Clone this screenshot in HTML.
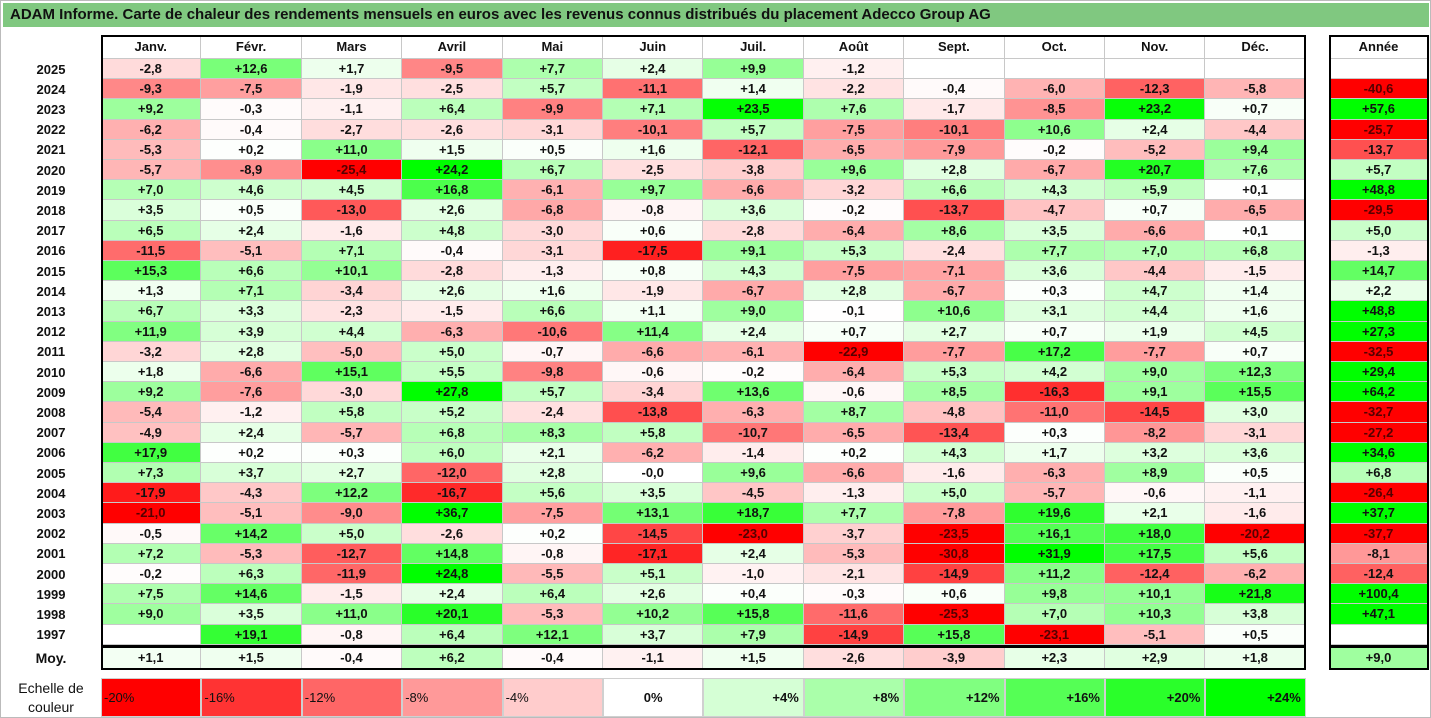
<!DOCTYPE html>
<html><head><meta charset="utf-8">
<style>
html,body{margin:0;padding:0;background:#fff;}
#root{position:relative;width:1431px;height:718px;overflow:hidden;font-family:"Liberation Sans",Arial,sans-serif;box-sizing:border-box;border:1px solid #bbb;}
.c{position:absolute;box-sizing:border-box;display:flex;align-items:center;justify-content:center;font-weight:bold;font-size:13px;color:#111;}
.g{border-right:1px solid #c8c8c8;border-bottom:1px solid #c8c8c8;}
.box{position:absolute;box-sizing:border-box;border:2px solid #000;pointer-events:none;}
</style></head>
<body>
<div id="root">
<div style="position:absolute;left:2px;top:2px;width:1426px;height:24px;background:#80c880;font-weight:bold;font-size:15px;line-height:24px;padding-left:7px;box-sizing:border-box;color:#111;">ADAM Informe. Carte de chaleur des rendements mensuels en euros avec les revenus connus distribués du placement Adecco Group AG</div>
</div>
<script>
const months=["Janv.","Févr.","Mars","Avril","Mai","Juin","Juil.","Août","Sept.","Oct.","Nov.","Déc."];
const years=[2025,2024,2023,2022,2021,2020,2019,2018,2017,2016,2015,2014,2013,2012,2011,2010,2009,2008,2007,2006,2005,2004,2003,2002,2001,2000,1999,1998,1997];
const monthly=[
[-2.8,12.6,1.7,-9.5,7.7,2.4,9.9,-1.2,null,null,null,null],
[-9.3,-7.5,-1.9,-2.5,5.7,-11.1,1.4,-2.2,-0.4,-6.0,-12.3,-5.8],
[9.2,-0.3,-1.1,6.4,-9.9,7.1,23.5,7.6,-1.7,-8.5,23.2,0.7],
[-6.2,-0.4,-2.7,-2.6,-3.1,-10.1,5.7,-7.5,-10.1,10.6,2.4,-4.4],
[-5.3,0.2,11.0,1.5,0.5,1.6,-12.1,-6.5,-7.9,-0.2,-5.2,9.4],
[-5.7,-8.9,-25.4,24.2,6.7,-2.5,-3.8,9.6,2.8,-6.7,20.7,7.6],
[7.0,4.6,4.5,16.8,-6.1,9.7,-6.6,-3.2,6.6,4.3,5.9,0.1],
[3.5,0.5,-13.0,2.6,-6.8,-0.8,3.6,-0.2,-13.7,-4.7,0.7,-6.5],
[6.5,2.4,-1.6,4.8,-3.0,0.6,-2.8,-6.4,8.6,3.5,-6.6,0.1],
[-11.5,-5.1,7.1,-0.4,-3.1,-17.5,9.1,5.3,-2.4,7.7,7.0,6.8],
[15.3,6.6,10.1,-2.8,-1.3,0.8,4.3,-7.5,-7.1,3.6,-4.4,-1.5],
[1.3,7.1,-3.4,2.6,1.6,-1.9,-6.7,2.8,-6.7,0.3,4.7,1.4],
[6.7,3.3,-2.3,-1.5,6.6,1.1,9.0,-0.1,10.6,3.1,4.4,1.6],
[11.9,3.9,4.4,-6.3,-10.6,11.4,2.4,0.7,2.7,0.7,1.9,4.5],
[-3.2,2.8,-5.0,5.0,-0.7,-6.6,-6.1,-22.9,-7.7,17.2,-7.7,0.7],
[1.8,-6.6,15.1,5.5,-9.8,-0.6,-0.2,-6.4,5.3,4.2,9.0,12.3],
[9.2,-7.6,-3.0,27.8,5.7,-3.4,13.6,-0.6,8.5,-16.3,9.1,15.5],
[-5.4,-1.2,5.8,5.2,-2.4,-13.8,-6.3,8.7,-4.8,-11.0,-14.5,3.0],
[-4.9,2.4,-5.7,6.8,8.3,5.8,-10.7,-6.5,-13.4,0.3,-8.2,-3.1],
[17.9,0.2,0.3,6.0,2.1,-6.2,-1.4,0.2,4.3,1.7,3.2,3.6],
[7.3,3.7,2.7,-12.0,2.8,-0.0,9.6,-6.6,-1.6,-6.3,8.9,0.5],
[-17.9,-4.3,12.2,-16.7,5.6,3.5,-4.5,-1.3,5.0,-5.7,-0.6,-1.1],
[-21.0,-5.1,-9.0,36.7,-7.5,13.1,18.7,7.7,-7.8,19.6,2.1,-1.6],
[-0.5,14.2,5.0,-2.6,0.2,-14.5,-23.0,-3.7,-23.5,16.1,18.0,-20.2],
[7.2,-5.3,-12.7,14.8,-0.8,-17.1,2.4,-5.3,-30.8,31.9,17.5,5.6],
[-0.2,6.3,-11.9,24.8,-5.5,5.1,-1.0,-2.1,-14.9,11.2,-12.4,-6.2],
[7.5,14.6,-1.5,2.4,6.4,2.6,0.4,-0.3,0.6,9.8,10.1,21.8],
[9.0,3.5,11.0,20.1,-5.3,10.2,15.8,-11.6,-25.3,7.0,10.3,3.8],
[null,19.1,-0.8,6.4,12.1,3.7,7.9,-14.9,15.8,-23.1,-5.1,0.5]];
const annual=[null,-40.6,57.6,-25.7,-13.7,5.7,48.8,-29.5,5.0,-1.3,14.7,2.2,48.8,27.3,-32.5,29.4,64.2,-32.7,-27.2,34.6,6.8,-26.4,37.7,-37.7,-8.1,-12.4,100.4,47.1,null];
const averages=[1.1,1.5,-0.4,6.2,-0.4,-1.1,1.5,-2.6,-3.9,2.3,2.9,1.8];
const averageYear=9.0;
const scaleSteps=[-20,-16,-12,-8,-4,0,4,8,12,16,20,24];

const root=document.getElementById('root');
const X0=100,CW=100.4,YX=1328,YW=100,HY=34,HH=24,RY=58,RH=20.2;
const colX=i=>X0+i*CW;
const rowY=i=>RY+i*RH;
function color(v){
  if(v===null) return '#fff';
  if(v<0){const c=Math.round(255*(1-Math.min(1,-v/20)));return `rgb(255,${c},${c})`;}
  const c=Math.round(255*(1-Math.min(1,v/24)));return `rgb(${c},255,${c})`;
}
function fmt(v){
  if(v===null) return '';
  const s=Math.abs(v).toFixed(1).replace('.',',');
  return ((v<0||Object.is(v,-0))?'-':'+')+s;
}
function cell(x,y,w,h,txt,bg,cls){
  const d=document.createElement('div');
  d.className='c '+(cls||'');
  d.style.left=x+'px';d.style.top=y+'px';d.style.width=w+'px';d.style.height=h+'px';
  if(bg) d.style.background=bg;
  d.textContent=txt;
  root.appendChild(d);return d;
}
function box(x,y,w,h,name){
  const b=document.createElement('div');b.className='box';
  b.style.left=x+'px';b.style.top=y+'px';b.style.width=w+'px';b.style.height=h+'px';
  
  
  root.appendChild(b);
}
months.forEach((m,i)=>{
  const d=cell(colX(i),HY,CW,HH,m,'#fff','g');
  
  
});
const yh=cell(YX,HY,YW,HH,'Année','#fff','g');


years.forEach((yr,r)=>{
  const l=cell(0,rowY(r),X0,RH,String(yr),null,'');
  
  
  monthly[r].forEach((v,i)=>{
    const d=cell(colX(i),rowY(r),CW,RH,fmt(v),color(v),'g');
    if(v!==null&&v<-18) d.style.color='#500';
    
    
  });
  const a=annual[r];
  const d=cell(YX,rowY(r),YW,RH,fmt(a),color(a),'g');
  if(a!==null&&a<-18) d.style.color='#500';
  
  
});
const MY=645,MH=24;
const ml=cell(0,MY,X0,MH,'Moy.',null,'');
ml.style.fontSize='14px';


averages.forEach((v,i)=>{
  const d=cell(colX(i),MY,CW,MH,fmt(v),color(v),'g');
  
  
});
const ay=cell(YX,MY,YW,MH,fmt(averageYear),color(averageYear),'g');


box(X0,HY,12*CW,MY-HY+1,'month-block-border');
box(X0,MY,12*CW,MH,'average-row-border');
box(YX,HY,YW,MY-HY+1,'year-block-border');
box(YX,MY,YW,MH,'average-year-border');
const SY=677,SH=39;
const sl=cell(0,SY,X0,SH,'',null,'');
sl.innerHTML='Echelle de<br>couleur';
sl.style.fontWeight='normal';sl.style.textAlign='center';sl.style.fontSize='14px';sl.style.lineHeight='19px';


scaleSteps.forEach((v,i)=>{
  const txt=(v>0?'+':'')+v+'%';
  const d=cell(colX(i),SY,CW,SH,txt,color(v),'g');
  d.style.border='1px solid #d0d0d0';
  if(v<0){d.style.justifyContent='flex-start';d.style.paddingLeft='2px';d.style.fontWeight='normal';}
  else if(v>0){d.style.justifyContent='flex-end';d.style.paddingRight='4px';}
  
  
});
</script>
</body></html>
